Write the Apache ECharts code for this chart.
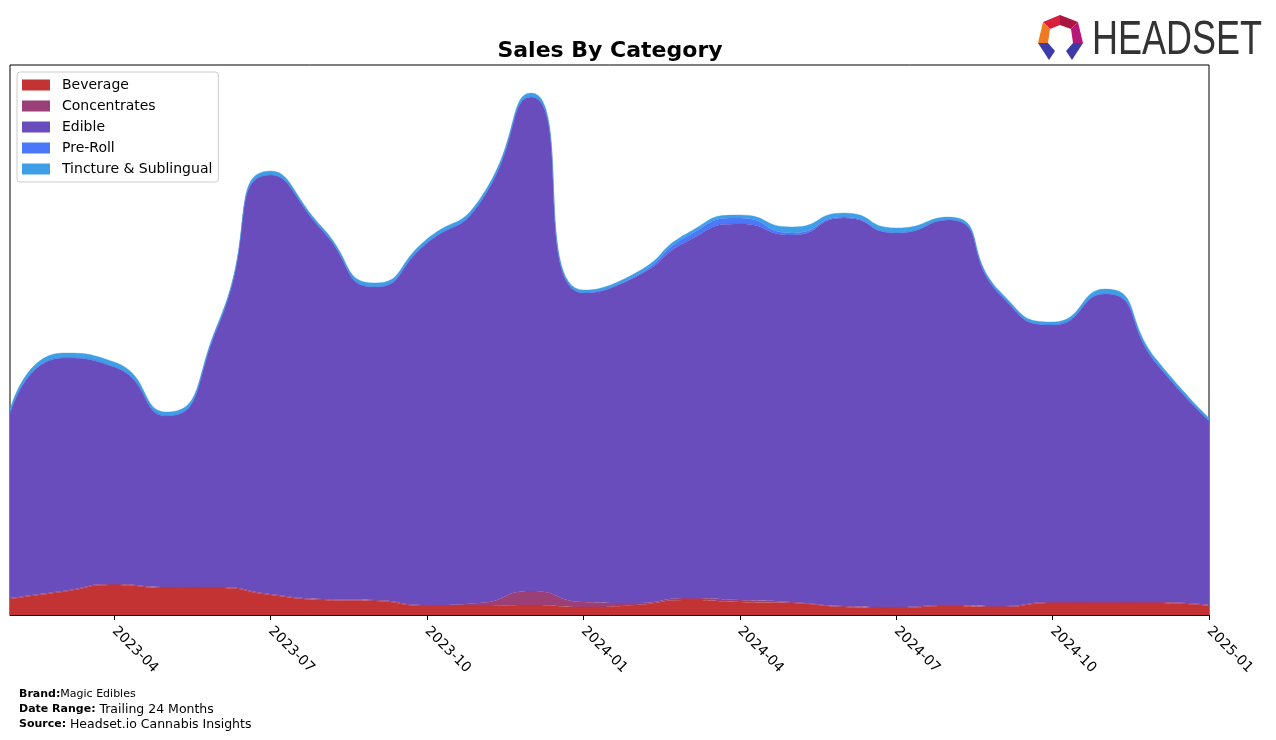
<!DOCTYPE html>
<html>
<head>
<meta charset="utf-8">
<script src="https://cdn.jsdelivr.net/npm/echarts@6/dist/echarts.min.js"></script>
<style>
html,body{margin:0;padding:0;background:#fff;}
#chart{width:1276px;height:740px;}
</style>
</head>
<body>
<div id="chart"></div>
<script>
const months = ['2023-02','2023-03','2023-04','2023-05','2023-06','2023-07','2023-08','2023-09','2023-10','2023-11','2023-12','2024-01','2024-02','2024-03','2024-04','2024-05','2024-06','2024-07','2024-08','2024-09','2024-10','2024-11','2024-12','2025-01'];
const beverage     = [16,23,30,27,27,20,15,14,9,9,10,8,10,15,13,12,8,7,9,8,12,12,12,9];
const concentrates = [1,1,1,1,1,1,1,1,1,3,14,5,2,2,2,1,1,1,1,1,1,1,1,1];
const edible       = [184,233,217,171,262,419,368,313,362,399,494,309,326,357,376,367,388,374,385,311,277,308,238,184];
const preRoll      = [0,0,0,0,0,0,0,0,0,0,0,0,1,5,6,2,1,0,0,0,0,0,0,0];
const tincture     = [4,5,5,4,3,4,3,4,4,4,4,3,3,3,3,6,4,5,3,3,3,5,4,3];
const tickLabels = ['2023-04','2023-07','2023-10','2024-01','2024-04','2024-07','2024-10','2025-01'];
const seriesNames = ['Beverage','Concentrates','Edible','Pre-Roll','Tincture & Sublingual'];
const colors = ['#c33333','#9b3f78','#6a4dbd','#4a78f8','#3e9fe7'];

const values = [beverage, concentrates, edible, preRoll, tincture];
const showTick = (idx, val) => tickLabels.indexOf(val) >= 0;

const chart = echarts.init(document.getElementById('chart'), null, {renderer: 'canvas'});
const series = seriesNames.map((name, i) => ({
  name: name,
  type: 'line',
  stack: 'total',
  smooth: 0.6,
  symbol: 'none',
  data: values[i],
  lineStyle: {width: 0.6, color: colors[i], opacity: 0.6},
  areaStyle: {color: colors[i], opacity: 1},
  itemStyle: {color: colors[i]},
  emphasis: {disabled: true}
}));

chart.setOption({
  animation: false,
  backgroundColor: '#fff',
  title: {
    text: 'Sales By Category',
    left: 605, top: 35, textAlign: 'center',
    textStyle: {fontFamily: 'DejaVu Sans', fontSize: 22, fontWeight: 'bold', color: '#000'}
  },
  legend: {
    orient: 'vertical', left: 17, top: 72,
    icon: 'rect', itemWidth: 28, itemHeight: 11, itemGap: 7,
    padding: [6, 6, 6, 5],
    borderColor: '#cccccc', borderWidth: 1, borderRadius: 3,
    backgroundColor: 'rgba(255,255,255,0.8)',
    textStyle: {fontFamily: 'DejaVu Sans', fontSize: 14, color: '#000', padding: [0,0,0,7]},
    data: seriesNames
  },
  grid: {left: 10, right: 67, top: 65, bottom: 125, show: true, borderColor: '#000', borderWidth: 1, backgroundColor: 'transparent'},
  xAxis: {
    type: 'category',
    data: months,
    boundaryGap: false,
    axisLine: {show: true, lineStyle: {color: '#000', width: 1}},
    axisTick: {show: true, interval: showTick, length: 5, lineStyle: {color: '#000'}},
    axisLabel: {
      interval: showTick,
      rotate: -45,
      fontFamily: 'DejaVu Sans', fontSize: 14, color: '#000', margin: 14
    },
    splitLine: {show: false}
  },
  yAxis: {
    type: 'value', min: 0, max: 550,
    axisLine: {show: false}, axisTick: {show: false}, axisLabel: {show: false}, splitLine: {show: false}
  },
  series: series,
  graphic: [
    {type: 'polygon', shape: {points: [[1043,22],[1060,15],[1060,25],[1050,29]]}, style: {fill: '#d81f3c'}},
    {type: 'polygon', shape: {points: [[1060,15],[1078,22],[1071,29],[1060,25]]}, style: {fill: '#a9163f'}},
    {type: 'polygon', shape: {points: [[1043,22],[1050,29],[1048,43],[1038,43]]}, style: {fill: '#f07a22'}},
    {type: 'polygon', shape: {points: [[1078,22],[1083,43],[1073,43],[1071,29]]}, style: {fill: '#b8177a'}},
    {type: 'polygon', shape: {points: [[1038,43],[1048,43],[1055,51],[1049,60]]}, style: {fill: '#3b3aa8'}},
    {type: 'polygon', shape: {points: [[1073,43],[1083,43],[1072,60],[1066,51]]}, style: {fill: '#3b3aa8'}},
    {type: 'text', left: 1092, top: 17, scaleX: 0.75,
      style: {text: 'HEADSET', font: '500 48px "Liberation Sans"', fill: '#333'}},
    {type: 'text', left: 19, top: 689, style: {
      text: '{b|Brand:}{g|Magic Edibles}',
      rich: {b: {fontFamily: 'DejaVu Sans', fontSize: 11, fontWeight: 'bold', color: '#000'},
             g: {fontFamily: 'DejaVu Sans', fontSize: 11, color: '#808080'}}
    }},
    {type: 'text', left: 19, top: 703, style: {
      text: '{b|Date Range: }{g|Trailing 24 Months}',
      rich: {b: {fontFamily: 'DejaVu Sans', fontSize: 11, fontWeight: 'bold', color: '#000'},
             g: {fontFamily: 'DejaVu Sans', fontSize: 12.5, color: '#808080'}}
    }},
    {type: 'text', left: 19, top: 718, style: {
      text: '{b|Source: }{g|Headset.io Cannabis Insights}',
      rich: {b: {fontFamily: 'DejaVu Sans', fontSize: 11, fontWeight: 'bold', color: '#000'},
             g: {fontFamily: 'DejaVu Sans', fontSize: 12.5, color: '#808080'}}
    }}
  ]
});
</script>
</body>
</html>
